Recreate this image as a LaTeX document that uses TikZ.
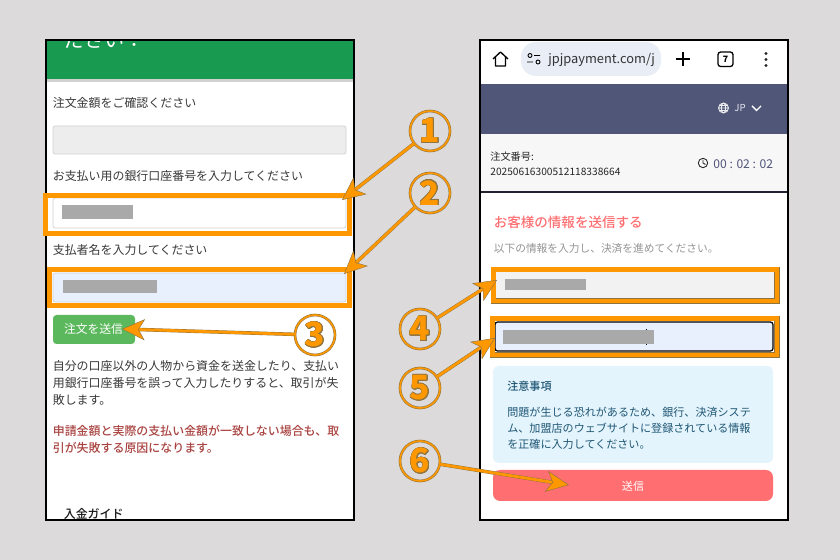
\documentclass[tikz,border=0pt]{standalone}
\usepackage{fontspec}
\usepackage[copies]{contour}
\setmainfont{Noto Sans CJK JP}
\newfontfamily\medfont{Noto Sans CJK JP Medium}
\usetikzlibrary{arrows.meta}
\contourlength{0.35pt}
\definecolor{pagegrey}{HTML}{DCDADA}
\definecolor{callorange}{HTML}{FF9800}
\definecolor{calledge}{HTML}{8F7440}
\definecolor{headgreen}{HTML}{189B50}
\definecolor{btngreen}{HTML}{5CB85C}
\definecolor{fieldblue}{HTML}{E8F0FE}
\definecolor{maskgrey}{HTML}{A9A9A9}
\definecolor{navy}{HTML}{505678}
\definecolor{salmon}{HTML}{FF6F71}
\definecolor{noteblue}{HTML}{E3F4FC}
\definecolor{notetext}{HTML}{1F5674}
\definecolor{pillblue}{HTML}{E8EDF6}
\definecolor{warnred}{HTML}{A94442}
\tikzset{
  lefttext/.style={anchor=west,inner sep=0pt,text=black!78,font=\fontsize{6.8}{8}\selectfont},
  redtext/.style={lefttext,text=warnred,font=\fontsize{6.8}{8}\selectfont\medfont},
  notetxt/.style={anchor=west,inner sep=0pt,text=notetext,font=\fontsize{6.3}{8}\selectfont},
  ordertxt/.style={anchor=west,inner sep=0pt,text=black!85,font=\fontsize{5.8}{7}\selectfont},
  hilite/.style={draw=calledge,line width=.25pt,double=callorange,double distance=2.6pt},
  field/.style={draw=black!18,line width=.4pt,rounded corners=1.2pt},
  mask/.style={fill=maskgrey,draw=none},
  callnum/.style={circle,minimum size=0.8cm,inner sep=0pt,draw=calledge,line width=.3pt,double=callorange,double distance=.9pt,font=\fontsize{19}{19}\selectfont\bfseries,text=callorange},
  callarrow/.style={preaction={draw=calledge,line width=2pt,shorten >=6pt,-},draw=callorange,line width=1.55pt,
    -{Stealth[length=13pt,width=12pt,inset=3.5pt,fill=callorange,color=calledge,line width=.25pt]}},
  icon/.style={draw=black,line width=.75pt,line join=round}
}
\begin{document}
\begin{tikzpicture}[x=0.02cm,y=0.02cm]
    \useasboundingbox (0,0) rectangle (840,-560);
    \fill [pagegrey] (0,0) rectangle (840,-560);
    \fill [black!70] (46,-40) rectangle (355,-521);
    \fill [black!70] (480,-40) rectangle (789,-521);
    \begin{scope}
    \clip (45,-39) rectangle (354,-519);
    \fill [white] (45,-39) rectangle (354,-520);
    \fill [black!18] (47,-79) rectangle (353,-82);
    \begin{scope}
    \clip (45,-41) rectangle (354,-79);
    \fill [headgreen] (45,-39) rectangle (354,-79);
    \node (headline) [anchor=west,inner sep=0pt,text=white,font=\fontsize{11.4}{12}\selectfont] at (64,-40.5) {ださい：};
    \end{scope}
    \node (amountlabel) [lefttext] at (52.5,-102.7) {注文金額をご確認ください};
    \draw [field,fill=black!7] (53,-126) rectangle (346,-154);
    \node (accountlabel) [lefttext] at (52.5,-175.7) {お支払い用の銀行口座番号を入力してください};
    \draw [field,fill=white] (53,-198) rectangle (346,-228);
    \fill [mask] (62,-205.5) rectangle (133,-219);
    \node (namelabel) [lefttext] at (52.5,-249.7) {支払者名を入力してください};
    \draw [field,fill=fieldblue] (53,-273) rectangle (346,-302);
    \fill [mask] (63,-280.5) rectangle (157,-293);
    \fill [btngreen,rounded corners=2pt] (53,-315) rectangle (135,-344);
    \node (sendleft) [inner sep=0pt,text=white,font=\fontsize{6.7}{8}\selectfont] at (93.5,-329) {注文を送信};
    \node (warnone) [lefttext] at (52.5,-365.7) {自分の口座以外の人物から資金を送金したり、支払い};
    \node (warntwo) [lefttext] at (52.5,-382.7) {用銀行口座番号を誤って入力したりすると、取引が失};
    \node (warnthree) [lefttext] at (52.5,-399.7) {敗します。};
    \node (redone) [redtext] at (52.5,-430.7) {申請金額と実際の支払い金額が一致しない場合も、取};
    \node (redtwo) [redtext] at (52.5,-447.7) {引が失敗する原因になります。};
    \node (guide) [lefttext,text=black!90,font=\fontsize{6.8}{8}\selectfont\medfont] at (63.5,-513.5) {入金ガイド};
    \end{scope}
    \draw [black,line width=1.1pt] (46,-40) rectangle (354,-520);
    \draw [hilite] (45.5,-195.5) rectangle (349.5,-233.5);
    \draw [hilite] (49.5,-269.5) rectangle (349.5,-305.5);
    \begin{scope}
    \clip (479,-39) rectangle (788,-520);
    \fill [white] (479,-39) rectangle (788,-520);
    \fill [navy] (479,-84) rectangle (788,-134);
    \fill [black!3] (479,-134) rectangle (788,-192);
    \fill [navy!40!black] (479,-191) rectangle (788,-193);
    \fill [pillblue] [rounded corners=8.5pt] (521,-42) rectangle (661,-76);
    \draw [icon] (493,-59) -- (500.5,-52) -- (508,-59) (495.5,-57.5) -- (495.5,-66) -- (505.5,-66) -- (505.5,-57.5);
    \draw [icon,line width=.5pt] (530,-55.5) circle (2) (534,-55.5) -- (540,-55.5) (527,-62) -- (533,-62) (538,-62) circle (2);
    \node (urltext) [anchor=west,inner sep=0pt,text=black!80,font=\fontsize{7.3}{9}\selectfont] at (548,-59.5) {jpjpayment.com/j};
    \draw [icon,line width=.6pt] (676,-59) -- (690,-59) (683,-52) -- (683,-66);
    \draw [icon,rounded corners=1.5pt] (718,-52) rectangle (733,-66.5);
    \node (tabcount) [inner sep=0pt,font=\fontsize{5}{6}\selectfont\bfseries] at (725.5,-59.3) {7};
    \fill [black!85] (766,-53.5) circle (1.6) (766,-59.5) circle (1.6) (766,-65.5) circle (1.6);
    \draw [white!90!navy,line width=.5pt] (723.5,-108) circle (5) (723.5,-108) ellipse (2.2 and 5) (718.5,-108) -- (728.5,-108) (719.2,-105.5) -- (727.8,-105.5) (719.2,-110.5) -- (727.8,-110.5);
    \node (langtext) [anchor=west,inner sep=0pt,text=white!85!navy,font=\fontsize{5.5}{7}\selectfont] at (734,-108) {JP};
    \draw [white,line width=.8pt] (752,-106) -- (756.5,-110.5) -- (761,-106);
    \node (orderlabel) [ordertxt] at (490,-156.5) {注文番号:};
    \node (ordernum) [ordertxt] at (490,-171.5) {20250616300512118338664};
    \draw [black!85,line width=.5pt] (703,-163) circle (4.7) (703,-160) -- (703,-163) -- (705.5,-164.5);
    \node (timer) [anchor=west,inner sep=0pt,text=navy,font=\fontsize{6.9}{8}\selectfont] at (713,-164) {00 : 02 : 02};
    \node (formtitle) [anchor=west,inner sep=0pt,text=salmon,font=\fontsize{7.7}{9}\selectfont\medfont] at (493.5,-222) {お客様の情報を送信する};
    \node (formsub) [anchor=west,inner sep=0pt,text=black!42,font=\fontsize{6.1}{8}\selectfont] at (493.5,-248) {以下の情報を入力し、決済を進めてください。};
    \fill [black!5] (496,-272) rectangle (774,-298);
    \fill [mask] (505,-279) rectangle (586,-290);
    \draw [fill=fieldblue,draw=black,line width=.7pt,rounded corners=1.5pt] (495,-322) rectangle (773,-351);
    \draw [black,line width=.25pt] (646,-329) -- (646,-345);
    \fill [mask] (503,-330) rectangle (654,-344);
    \draw [hilite] (493.5,-269.5) rectangle (777,-301);
    \draw [hilite] (492.5,-318.5) rectangle (777,-355);
    \fill [noteblue,rounded corners=3pt] (493,-366) rectangle (773,-463);
    \node (notetitle) [notetxt,font=\fontsize{6.3}{8}\selectfont\medfont] at (507,-386) {注意事項};
    \node (noteone) [notetxt] at (507,-412) {問題が生じる恐れがあるため、銀行、決済システ};
    \node (notetwo) [notetxt] at (507,-428) {ム、加盟店のウェブサイトに登録されている情報};
    \node (notethree) [notetxt] at (507,-444) {を正確に入力してください。};
    \fill [salmon,rounded corners=4pt] (493,-470) rectangle (773,-501);
    \node (sendright) [inner sep=0pt,text=white,font=\fontsize{6.3}{8}\selectfont] at (633,-486) {送信};
    \end{scope}
    \draw [black,line width=1.1pt] (480,-40) rectangle (788,-520);
    \node (one) [callnum] at (430,-131) {\contour{calledge}{1}};
    \node (two) [callnum] at (430,-193) {\contour{calledge}{2}};
    \node (three) [callnum] at (315,-335) {\contour{calledge}{3}};
    \node (four) [callnum] at (420,-329) {\contour{calledge}{4}};
    \node (five) [callnum] at (420,-388) {\contour{calledge}{5}};
    \node (six) [callnum] at (420,-461) {\contour{calledge}{6}};
    \coordinate (accountfield) at (342,-200);
    \coordinate (namefield) at (344,-274);
    \coordinate (sendbtn) at (122,-329);
    \coordinate (firstfield) at (497,-280);
    \coordinate (secondfield) at (495,-338);
    \coordinate (paybtn) at (569,-485);
    \draw [callarrow] (one) -- (accountfield);
    \draw [callarrow] (two) -- (namefield);
    \draw [callarrow] (three) -- (sendbtn);
    \draw [callarrow] (four) -- (firstfield);
    \draw [callarrow] (five) -- (secondfield);
    \draw [callarrow] (six) -- (paybtn);
\end{tikzpicture}
\end{document}
